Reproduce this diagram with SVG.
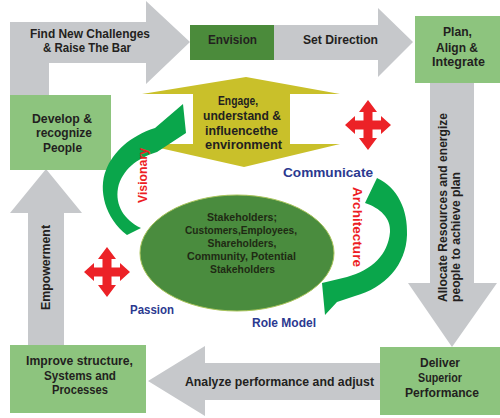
<svg xmlns="http://www.w3.org/2000/svg" width="500" height="418" viewBox="0 0 500 418">
<style>
.grey{fill:#c6c8cb}
.box{fill:#8dc47e}
.t{font-family:"Liberation Sans",Arial,sans-serif;font-weight:bold;font-size:13.5px;fill:#231f20;text-anchor:middle}
.e{font-family:"Liberation Sans",Arial,sans-serif;font-weight:bold;font-size:11px;fill:#1f2a14;text-anchor:middle}
.blue{font-family:"Liberation Sans",Arial,sans-serif;font-weight:bold;font-size:13.5px;fill:#2b3990;text-anchor:middle}
.red{font-family:"Liberation Sans",Arial,sans-serif;font-weight:bold;font-size:13.5px;fill:#ed1c24;text-anchor:middle}
.garrow{fill:#0aa64b}
.cross{fill:#ec2227}
</style>
<defs>
<path id="cross" d="M0,-25 L9,-13 L4.5,-13 L4.5,-4.5 L13,-4.5 L13,-9 L23,0 L13,9 L13,4.5 L4.5,4.5 L4.5,13 L9,13 L0,25 L-9,13 L-4.5,13 L-4.5,4.5 L-13,4.5 L-13,9 L-23,0 L-13,-9 L-13,-4.5 L-4.5,-4.5 L-4.5,-13 L-9,-13 Z"/>
</defs>
<rect width="500" height="418" fill="#ffffff"/>

<g id="connectors">
  <g id="arrow-find">
    <polygon class="grey" points="10,95 10,22 146,22 146,1 190,42 146,84 146,63 49,63 49,95"/>
    <text class="t" x="90" y="38" textLength="120" lengthAdjust="spacingAndGlyphs">Find New Challenges</text>
    <text class="t" x="87" y="52" textLength="88" lengthAdjust="spacingAndGlyphs">&amp; Raise The Bar</text>
  </g>
  <g id="arrow-setdirection">
    <polygon class="grey" points="274,25 378,25 378,8 413,42 378,77 378,60 274,60"/>
    <text class="t" x="340.5" y="44" textLength="75" lengthAdjust="spacingAndGlyphs">Set Direction</text>
  </g>
  <g id="arrow-allocate">
    <polygon class="grey" points="430,83 474,83 474,283 497,283 452,347 408,283 430,283"/>
    <text class="t" transform="translate(447,302) rotate(-90)" style="text-anchor:start" x="0" y="0" textLength="189" lengthAdjust="spacingAndGlyphs">Allocate Resources and energize</text>
    <text class="t" transform="translate(460,302) rotate(-90)" style="text-anchor:start" x="0" y="0" textLength="130" lengthAdjust="spacingAndGlyphs">people to achieve plan</text>
  </g>
  <g id="arrow-analyze">
    <polygon class="grey" points="380,363 205,363 205,346 148,381 205,416 205,400 380,400"/>
    <text class="t" x="279.5" y="386" textLength="189" lengthAdjust="spacingAndGlyphs">Analyze performance and adjust</text>
  </g>
  <g id="arrow-empowerment">
    <polygon class="grey" points="28,345 28,213 10,213 46,169 82,213 64,213 64,345"/>
    <text class="t" transform="translate(50,267.5) rotate(-90)" x="0" y="0" textLength="85" lengthAdjust="spacingAndGlyphs">Empowerment</text>
  </g>
</g>

<g id="envision">
  <rect x="190" y="25" width="84" height="35" fill="#4b8b3b"/>
  <text class="t" x="232.5" y="44" textLength="49" lengthAdjust="spacingAndGlyphs">Envision</text>
</g>

<g id="plan">
  <rect class="box" x="415" y="16" width="85" height="67"/>
  <text class="t" x="457.5" y="36" textLength="29" lengthAdjust="spacingAndGlyphs">Plan,</text>
  <text class="t" x="457" y="52" textLength="42" lengthAdjust="spacingAndGlyphs">Align &amp;</text>
  <text class="t" x="458.5" y="66" textLength="53" lengthAdjust="spacingAndGlyphs">Integrate</text>
</g>

<g id="develop">
  <rect class="box" x="10" y="95" width="101" height="75"/>
  <text class="t" x="62" y="123" textLength="60" lengthAdjust="spacingAndGlyphs">Develop &amp;</text>
  <text class="t" x="64" y="137" textLength="56" lengthAdjust="spacingAndGlyphs">recognize</text>
  <text class="t" x="62.5" y="152" textLength="39" lengthAdjust="spacingAndGlyphs">People</text>
</g>

<g id="improve">
  <rect class="box" x="10" y="345" width="136" height="68"/>
  <text class="t" x="79.5" y="365" textLength="107" lengthAdjust="spacingAndGlyphs">Improve structure,</text>
  <text class="t" x="80" y="380" textLength="72" lengthAdjust="spacingAndGlyphs">Systems and</text>
  <text class="t" x="80" y="394" textLength="56" lengthAdjust="spacingAndGlyphs">Processes</text>
</g>

<g id="deliver">
  <rect class="box" x="380" y="347" width="120" height="68"/>
  <text class="t" x="440" y="367" textLength="40" lengthAdjust="spacingAndGlyphs">Deliver</text>
  <text class="t" x="440" y="382" textLength="44" lengthAdjust="spacingAndGlyphs">Superior</text>
  <text class="t" x="442" y="397" textLength="74" lengthAdjust="spacingAndGlyphs">Performance</text>
</g>

<g id="engage">
  <polygon fill="#c9c02a" points="193,94 142,94 246,77 340,94 290,94 290,144 340,144 244,167 142,144 193,144"/>
  <text class="t" x="238" y="105" textLength="40" lengthAdjust="spacingAndGlyphs">Engage,</text>
  <text class="t" x="242" y="120" textLength="78" lengthAdjust="spacingAndGlyphs">understand &amp;</text>
  <text class="t" x="241.5" y="135" textLength="73" lengthAdjust="spacingAndGlyphs">influencethe</text>
  <text class="t" x="243.5" y="149" textLength="77" lengthAdjust="spacingAndGlyphs">environment</text>
</g>

<g id="stakeholders">
  <ellipse cx="237" cy="253" rx="97" ry="58" fill="#4a8c3e" stroke="#a9c45a" stroke-width="1"/>
  <text class="e" x="242" y="221" textLength="70" lengthAdjust="spacingAndGlyphs">Stakeholders;</text>
  <text class="e" x="241" y="234" textLength="112" lengthAdjust="spacingAndGlyphs">Customers,Employees,</text>
  <text class="e" x="242" y="247" textLength="69" lengthAdjust="spacingAndGlyphs">Shareholders,</text>
  <text class="e" x="241.5" y="260" textLength="109" lengthAdjust="spacingAndGlyphs">Community, Potential</text>
  <text class="e" x="242.5" y="273" textLength="65" lengthAdjust="spacingAndGlyphs">Stakeholders</text>
</g>

<g id="visionary">
  <path class="garrow" d="M127,235 C105,218 98,190 106,170 C113,152 130,136 155,128 L183,104 L186,133 L157,152 C137,158 122,170 118,188 C115,205 124,220 141,228 Z"/>
  <text class="red" transform="translate(147,175.5) rotate(-90)" x="0" y="0" textLength="55" lengthAdjust="spacingAndGlyphs">Visionary</text>
</g>

<g id="architecture">
  <path class="garrow" d="M365,203 L377,178 C398,188 408,210 407,235 C406,265 385,288 355,296 L337,302 L325,315 L322,283 L347,277 C372,270 388,255 390,232 C391,218 380,208 365,203 Z"/>
  <text class="red" transform="translate(353,227) rotate(90)" x="0" y="0" textLength="80" lengthAdjust="spacingAndGlyphs">Architecture</text>
</g>

<g id="labels">
  <text class="blue" x="328" y="177" textLength="90" lengthAdjust="spacingAndGlyphs">Communicate</text>
  <text class="blue" x="152" y="314" textLength="44" lengthAdjust="spacingAndGlyphs">Passion</text>
  <text class="blue" x="284" y="327" textLength="64" lengthAdjust="spacingAndGlyphs">Role Model</text>
</g>

<g id="cross-top">
  <use href="#cross" class="cross" transform="translate(368,125)"/>
</g>
<g id="cross-bottom">
  <use href="#cross" class="cross" transform="translate(107,272)"/>
</g>
</svg>
